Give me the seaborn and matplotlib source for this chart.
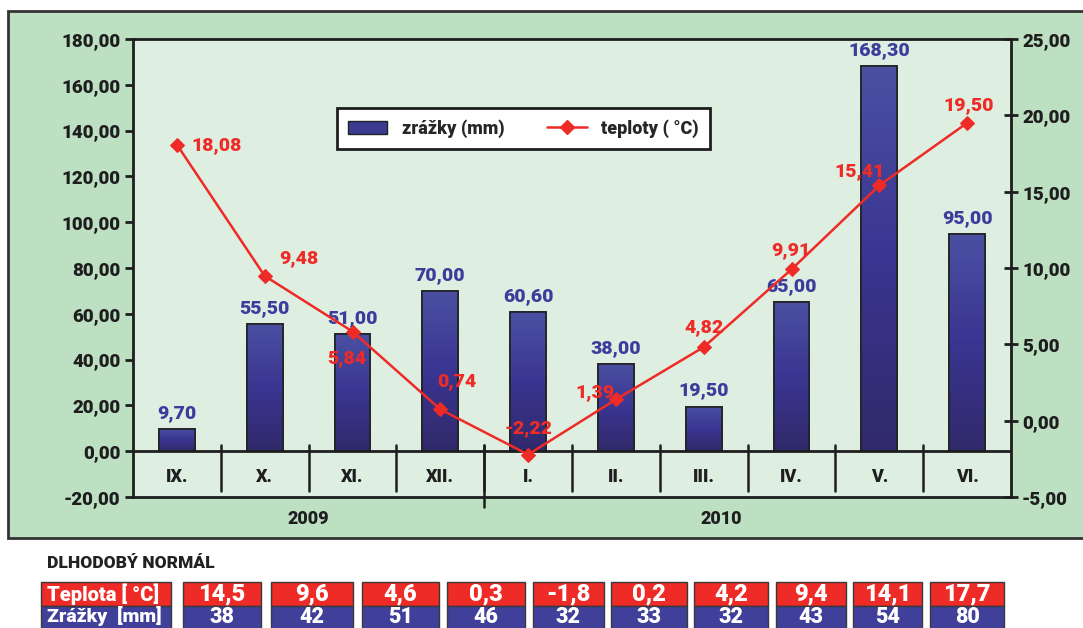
import numpy as np
import pandas as pd
import seaborn as sns
import matplotlib.pyplot as plt
from matplotlib.patches import Rectangle
from matplotlib.lines import Line2D
from matplotlib.colors import LinearSegmentedColormap

# data
months = ["IX.", "X.", "XI.", "XII.", "I.", "II.", "III.", "IV.", "V.", "VI."]
years = ["2009", "2010"]
zrazky = [9.70, 55.50, 51.00, 70.00, 60.60, 38.00, 19.50, 65.00, 168.30, 95.00]
teploty = [18.08, 9.48, 5.84, 0.74, -2.22, 1.39, 4.82, 9.91, 15.41, 19.50]
norm_teplota = ["14,5", "9,6", "4,6", "0,3", "-1,8", "0,2", "4,2", "9,4", "14,1", "17,7"]
norm_zrazky = ["38", "42", "51", "46", "32", "33", "32", "43", "54", "80"]

OUTER_BG = "#bde0c3"
PLOT_BG = "#deeee1"
RED = "#ee2b26"
BLUE_TXT = "#3c3c9c"
CELL_BLUE = "#40409a"
DARK = "#1e1e1e"
WT = "black"

sns.set_theme(style="white")
plt.rcParams["font.family"] = ["Roboto", "DejaVu Sans"]
plt.rcParams["font.weight"] = WT

df = pd.DataFrame({"mesiac": months, "zrazky": zrazky, "teploty": teploty})

fig = plt.figure(figsize=(10.83, 6.28), dpi=100)
W, H = 1083, 628

def fx(px):
    return px / W

def fy(py):
    return 1 - py / H

# outer green panel
fig.patches.append(Rectangle((fx(8), fy(538)), fx(1090) - fx(8), fy(11) - fy(538),
                             transform=fig.transFigure, facecolor=OUTER_BG,
                             edgecolor="#333333", linewidth=2, zorder=-5))

ax = fig.add_axes([fx(133), fy(497), fx(1011) - fx(133), fy(39) - fy(497)])
ax.set_facecolor(PLOT_BG)

sns.barplot(data=df, x="mesiac", y="zrazky", color="#3a3a90", width=0.41,
            edgecolor="#222222", linewidth=1.2, ax=ax, zorder=3)

# vertical gradient inside each bar
grad = LinearSegmentedColormap.from_list("g", ["#4b50a2", "#3a3591", "#302a6b"])
gimg = np.linspace(0, 1, 256).reshape(-1, 1)
for p in list(ax.patches):
    x0, y0 = p.get_x(), p.get_y()
    w, h = p.get_width(), p.get_height()
    im = ax.imshow(gimg, cmap=grad, aspect="auto", extent=(x0, x0 + w, y0, y0 + h),
                   origin="upper", zorder=3.5)
    im.set_clip_path(p)
    ax.add_patch(Rectangle((x0, y0), w, h, fill=False, edgecolor="#222222",
                           linewidth=1.2, zorder=3.6))

ax.set_xlim(-0.5, 9.5)
ax.set_ylim(-20, 180)
ax.set_yticks(np.arange(-20, 181, 20))
ax.set_yticklabels([f"{v:.2f}".replace(".", ",") for v in np.arange(-20, 181, 20)],
                   fontsize=13.5, fontweight=WT, color=DARK)
ax.set_xticks([])
ax.set_xlabel("")
ax.set_ylabel("")
ax.tick_params(axis="y", direction="out", length=6, width=2, color=DARK, pad=3)
for s in ax.spines.values():
    s.set_color(DARK)
    s.set_linewidth(2)

# category axis at zero
ax.axhline(0, color=DARK, linewidth=2, zorder=4)
for k in range(1, 10):
    ax.plot([k - 0.5, k - 0.5], [2.5, -17.5], color=DARK, linewidth=1.8, zorder=4)
ax.plot([3.5, 3.5], [2.5, -24.5], color=DARK, linewidth=1.8, zorder=4, clip_on=False)
for i, m in enumerate(months):
    ax.text(i, -11.3, m, ha="center", va="center", fontsize=13, fontweight=WT, color=DARK)
ax.text(1.5, -29.5, years[0], ha="center", va="center", fontsize=13, fontweight=WT, color=DARK)
ax.text(6.2, -29.5, years[1], ha="center", va="center", fontsize=13, fontweight=WT, color=DARK)

for i, v in enumerate(zrazky):
    ax.annotate(f"{v:.2f}".replace(".", ","), (i, v), xytext=(0, 7), textcoords="offset pixels",
                ha="center", va="bottom", fontsize=14, fontweight=WT, color=BLUE_TXT, zorder=6)

# temperature line on second axis
ax2 = ax.twinx()
sns.lineplot(data=df, x="mesiac", y="teploty", sort=False, color=RED, linewidth=1.8,
             marker="D", markersize=7, markeredgecolor=RED, ax=ax2, zorder=5)
ax2.set_ylim(-5, 25)
ax2.set_xlim(-0.5, 9.5)
ax2.set_yticks(np.arange(-5, 26, 5))
ax2.set_yticklabels([f"{v:.2f}".replace(".", ",") for v in np.arange(-5, 26, 5)],
                    fontsize=13.5, fontweight=WT, color=DARK)
ax2.set_ylabel("")
ax2.set_xlabel("")
ax2.tick_params(axis="y", direction="inout", length=10, width=2, color=DARK, pad=3)
for s in ax2.spines.values():
    s.set_visible(False)

temp_offsets = [(40, 0), (34, 18), (-6, -27), (16, 28), (0, 26), (-21, 7), (0, 20),
                (-1, 19), (-20, 14), (2, 18)]
for i, (v, off) in enumerate(zip(teploty, temp_offsets)):
    ax2.annotate(f"{v:.2f}".replace(".", ","), (i, v), xytext=off, textcoords="offset pixels",
                 ha="center", va="center", fontsize=14, fontweight=WT, color=RED, zorder=7)

handles = [Rectangle((0, 0), 1, 1, facecolor="#3a3a90", edgecolor="#222222"),
           Line2D([], [], color=RED, marker="D", markersize=7, linewidth=1.8)]
leg = ax2.legend(handles, ["zrážky (mm)", "teploty ( °C)"], ncol=2, loc="center",
                 bbox_to_anchor=(0.222, 0.762, 0.445, 0.085), mode="expand",
                 frameon=True, fancybox=False, prop={"size": 13, "weight": WT},
                 handlelength=2.2, columnspacing=3, borderpad=0.6)
leg.get_frame().set_edgecolor(DARK)
leg.get_frame().set_linewidth(2)
leg.get_frame().set_facecolor("white")
leg.get_frame().set_alpha(1)

# long-term normal table
fig.text(fx(47), fy(563), "DLHODOBÝ NORMÁL", ha="left", va="center", fontsize=12.5,
         fontweight=WT, color="#222222")

cells = [(183, 261), (271, 353), (362, 439), (447, 525), (533, 604), (611, 687),
         (694, 768), (776, 846), (853, 922), (930, 1004)]
row_top, row_mid, row_bot = 582, 606, 632

def cell(x0, x1, y0, y1, color):
    fig.patches.append(Rectangle((fx(x0), fy(y1)), fx(x1) - fx(x0), fy(y0) - fy(y1),
                                 transform=fig.transFigure, facecolor=color,
                                 edgecolor="#3a3a3a", linewidth=1, zorder=1))

cell(41, 171, row_top, row_mid, RED)
cell(41, 171, row_mid, row_bot, CELL_BLUE)
fig.text(fx(47), fy(594), "Teplota [ °C]", ha="left", va="center", fontsize=14.5,
         fontweight=WT, color="white")
fig.text(fx(47), fy(616), "Zrážky  [mm]", ha="left", va="center", fontsize=14,
         fontweight=WT, color="white")
for (x0, x1), t, z in zip(cells, norm_teplota, norm_zrazky):
    cell(x0, x1, row_top, row_mid, RED)
    cell(x0, x1, row_mid, row_bot, CELL_BLUE)
    fig.text(fx((x0 + x1) / 2), fy(594), t, ha="center", va="center", fontsize=17,
             fontweight=WT, color="white")
    fig.text(fx((x0 + x1) / 2), fy(617), z, ha="center", va="center", fontsize=15.5,
             fontweight=WT, color="white")

fig.savefig("out.png", dpi=100)
